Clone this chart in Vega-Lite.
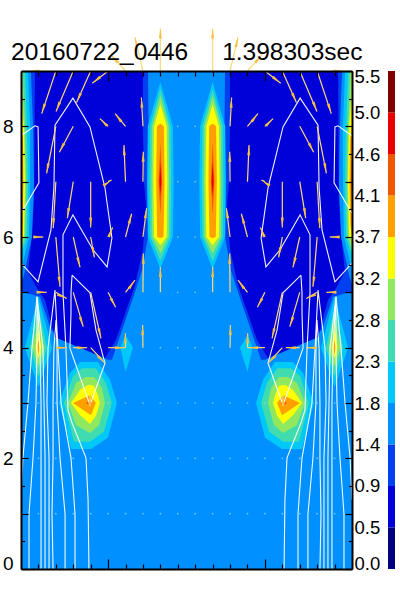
{"$schema":"https://vega.github.io/schema/vega-lite/v6.json","width":375,"height":498,"autosize":"none","padding":{"left":21,"top":71,"right":4,"bottom":31},"background":"white","view":{"stroke":null},
"title":{"text":"20160722_0446\u00a0\u00a0\u00a0\u00a0\u00a01.398303sec","anchor":"start","frame":"group","dx":-10,"offset":-57,"baseline":"alphabetic","font":"Liberation Sans","fontSize":24.5,"fontWeight":"normal","color":"black"},
"datasets":{
"polys":[
{"p":"r","b":"b3","o":0,"x":-9.5,"y":0},{"p":"r","b":"b3","o":1,"x":9.5,"y":0},{"p":"r","b":"b3","o":2,"x":9.5,"y":9},{"p":"r","b":"b3","o":3,"x":-9.5,"y":9},
{"p":"mL","b":"b2","o":0,"x":-9.5,"y":9},{"p":"mL","b":"b2","o":1,"x":-2.21,"y":9},{"p":"mL","b":"b2","o":2,"x":-2.15,"y":7},{"p":"mL","b":"b2","o":3,"x":-2.21,"y":6},{"p":"mL","b":"b2","o":4,"x":-2.55,"y":5.4},{"p":"mL","b":"b2","o":5,"x":-2.96,"y":5},{"p":"mL","b":"b2","o":6,"x":-4.28,"y":3.78},{"p":"mL","b":"b2","o":7,"x":-4.51,"y":3.78},{"p":"mL","b":"b2","o":8,"x":-7.78,"y":4.32},{"p":"mL","b":"b2","o":9,"x":-8.41,"y":4.92},{"p":"mL","b":"b2","o":10,"x":-9.5,"y":5.01},
{"p":"mR","b":"b2","o":0,"x":9.5,"y":9},{"p":"mR","b":"b2","o":1,"x":2.21,"y":9},{"p":"mR","b":"b2","o":2,"x":2.15,"y":7},{"p":"mR","b":"b2","o":3,"x":2.21,"y":6},{"p":"mR","b":"b2","o":4,"x":2.55,"y":5.4},{"p":"mR","b":"b2","o":5,"x":2.96,"y":5},{"p":"mR","b":"b2","o":6,"x":4.28,"y":3.78},{"p":"mR","b":"b2","o":7,"x":4.51,"y":3.78},{"p":"mR","b":"b2","o":8,"x":7.78,"y":4.32},{"p":"mR","b":"b2","o":9,"x":8.41,"y":4.92},{"p":"mR","b":"b2","o":10,"x":9.5,"y":5.01},
{"p":"dL","b":"b1","o":0,"x":-8.7,"y":9},{"p":"dL","b":"b1","o":1,"x":-2.5,"y":9},{"p":"dL","b":"b1","o":2,"x":-2.5,"y":7.99},{"p":"dL","b":"b1","o":3,"x":-2.44,"y":6.99},{"p":"dL","b":"b1","o":4,"x":-2.32,"y":6.58},{"p":"dL","b":"b1","o":5,"x":-2.5,"y":5.77},{"p":"dL","b":"b1","o":6,"x":-2.96,"y":5.13},{"p":"dL","b":"b1","o":7,"x":-4.05,"y":4.14},{"p":"dL","b":"b1","o":8,"x":-4.68,"y":3.81},{"p":"dL","b":"b1","o":9,"x":-7.55,"y":4.19},{"p":"dL","b":"b1","o":10,"x":-8.12,"y":4.86},{"p":"dL","b":"b1","o":11,"x":-8.52,"y":5.04},{"p":"dL","b":"b1","o":12,"x":-9.1,"y":5.37},{"p":"dL","b":"b1","o":13,"x":-8.93,"y":5.86},{"p":"dL","b":"b1","o":14,"x":-8.75,"y":6.67},
{"p":"dR","b":"b1","o":0,"x":8.7,"y":9},{"p":"dR","b":"b1","o":1,"x":2.5,"y":9},{"p":"dR","b":"b1","o":2,"x":2.5,"y":7.99},{"p":"dR","b":"b1","o":3,"x":2.44,"y":6.99},{"p":"dR","b":"b1","o":4,"x":2.32,"y":6.58},{"p":"dR","b":"b1","o":5,"x":2.5,"y":5.77},{"p":"dR","b":"b1","o":6,"x":2.96,"y":5.13},{"p":"dR","b":"b1","o":7,"x":4.05,"y":4.14},{"p":"dR","b":"b1","o":8,"x":4.68,"y":3.81},{"p":"dR","b":"b1","o":9,"x":7.55,"y":4.19},{"p":"dR","b":"b1","o":10,"x":8.12,"y":4.86},{"p":"dR","b":"b1","o":11,"x":8.52,"y":5.04},{"p":"dR","b":"b1","o":12,"x":9.1,"y":5.37},{"p":"dR","b":"b1","o":13,"x":8.93,"y":5.86},{"p":"dR","b":"b1","o":14,"x":8.75,"y":6.67},
{"p":"s3L","b":"b3","o":0,"x":-9.5,"y":9},{"p":"s3L","b":"b3","o":1,"x":-8.93,"y":9},{"p":"s3L","b":"b3","o":2,"x":-8.81,"y":7.99},{"p":"s3L","b":"b3","o":3,"x":-8.75,"y":6.99},{"p":"s3L","b":"b3","o":4,"x":-8.87,"y":6},{"p":"s3L","b":"b3","o":5,"x":-9.33,"y":5.31},{"p":"s3L","b":"b3","o":6,"x":-9.5,"y":5.15},
{"p":"s3R","b":"b3","o":0,"x":9.5,"y":9},{"p":"s3R","b":"b3","o":1,"x":8.93,"y":9},{"p":"s3R","b":"b3","o":2,"x":8.81,"y":7.99},{"p":"s3R","b":"b3","o":3,"x":8.75,"y":6.99},{"p":"s3R","b":"b3","o":4,"x":8.87,"y":6},{"p":"s3R","b":"b3","o":5,"x":9.33,"y":5.31},{"p":"s3R","b":"b3","o":6,"x":9.5,"y":5.15},
{"p":"s4L","b":"b4","o":0,"x":-9.5,"y":9},{"p":"s4L","b":"b4","o":1,"x":-9.1,"y":9},{"p":"s4L","b":"b4","o":2,"x":-8.98,"y":7.99},{"p":"s4L","b":"b4","o":3,"x":-8.98,"y":6.99},{"p":"s4L","b":"b4","o":4,"x":-9.04,"y":6},{"p":"s4L","b":"b4","o":5,"x":-9.5,"y":5.4},
{"p":"s4R","b":"b4","o":0,"x":9.5,"y":9},{"p":"s4R","b":"b4","o":1,"x":9.1,"y":9},{"p":"s4R","b":"b4","o":2,"x":8.98,"y":7.99},{"p":"s4R","b":"b4","o":3,"x":8.98,"y":6.99},{"p":"s4R","b":"b4","o":4,"x":9.04,"y":6},{"p":"s4R","b":"b4","o":5,"x":9.5,"y":5.4},
{"p":"s5L","b":"b5","o":0,"x":-9.5,"y":9},{"p":"s5L","b":"b5","o":1,"x":-9.27,"y":9},{"p":"s5L","b":"b5","o":2,"x":-9.16,"y":7.99},{"p":"s5L","b":"b5","o":3,"x":-9.1,"y":6.99},{"p":"s5L","b":"b5","o":4,"x":-9.16,"y":6},{"p":"s5L","b":"b5","o":5,"x":-9.5,"y":5.67},
{"p":"s5R","b":"b5","o":0,"x":9.5,"y":9},{"p":"s5R","b":"b5","o":1,"x":9.27,"y":9},{"p":"s5R","b":"b5","o":2,"x":9.16,"y":7.99},{"p":"s5R","b":"b5","o":3,"x":9.1,"y":6.99},{"p":"s5R","b":"b5","o":4,"x":9.16,"y":6},{"p":"s5R","b":"b5","o":5,"x":9.5,"y":5.67},
{"p":"s6L","b":"b6","o":0,"x":-9.5,"y":9},{"p":"s6L","b":"b6","o":1,"x":-9.41,"y":9},{"p":"s6L","b":"b6","o":2,"x":-9.27,"y":7.99},{"p":"s6L","b":"b6","o":3,"x":-9.21,"y":6.99},{"p":"s6L","b":"b6","o":4,"x":-9.27,"y":6},{"p":"s6L","b":"b6","o":5,"x":-9.5,"y":5.77},
{"p":"s6R","b":"b6","o":0,"x":9.5,"y":9},{"p":"s6R","b":"b6","o":1,"x":9.41,"y":9},{"p":"s6R","b":"b6","o":2,"x":9.27,"y":7.99},{"p":"s6R","b":"b6","o":3,"x":9.21,"y":6.99},{"p":"s6R","b":"b6","o":4,"x":9.27,"y":6},{"p":"s6R","b":"b6","o":5,"x":9.5,"y":5.77},
{"p":"s7L","b":"b7","o":0,"x":-9.5,"y":8.62},{"p":"s7L","b":"b7","o":1,"x":-9.33,"y":7.99},{"p":"s7L","b":"b7","o":2,"x":-9.27,"y":6.99},{"p":"s7L","b":"b7","o":3,"x":-9.33,"y":6},{"p":"s7L","b":"b7","o":4,"x":-9.5,"y":5.95},
{"p":"s7R","b":"b7","o":0,"x":9.5,"y":8.62},{"p":"s7R","b":"b7","o":1,"x":9.33,"y":7.99},{"p":"s7R","b":"b7","o":2,"x":9.27,"y":6.99},{"p":"s7R","b":"b7","o":3,"x":9.33,"y":6},{"p":"s7R","b":"b7","o":4,"x":9.5,"y":5.95},
{"p":"s8L","b":"b8","o":0,"x":-9.5,"y":8.02},{"p":"s8L","b":"b8","o":1,"x":-9.39,"y":7.75},{"p":"s8L","b":"b8","o":2,"x":-9.36,"y":6.99},{"p":"s8L","b":"b8","o":3,"x":-9.41,"y":6.22},{"p":"s8L","b":"b8","o":4,"x":-9.5,"y":6.04},
{"p":"s8R","b":"b8","o":0,"x":9.5,"y":8.02},{"p":"s8R","b":"b8","o":1,"x":9.39,"y":7.75},{"p":"s8R","b":"b8","o":2,"x":9.36,"y":6.99},{"p":"s8R","b":"b8","o":3,"x":9.41,"y":6.22},{"p":"s8R","b":"b8","o":4,"x":9.5,"y":6.04},
{"p":"s9L","b":"b9","o":0,"x":-9.5,"y":7.48},{"p":"s9L","b":"b9","o":1,"x":-9.43,"y":6.99},{"p":"s9L","b":"b9","o":2,"x":-9.5,"y":6.49},
{"p":"s9R","b":"b9","o":0,"x":9.5,"y":7.48},{"p":"s9R","b":"b9","o":1,"x":9.43,"y":6.99},{"p":"s9R","b":"b9","o":2,"x":9.5,"y":6.49},
{"p":"l4L","b":"b4","o":0,"x":-8.5,"y":4.92},{"p":"l4L","b":"b4","o":1,"x":-9.28,"y":4},{"p":"l4L","b":"b4","o":2,"x":-8.5,"y":3.29},{"p":"l4L","b":"b4","o":3,"x":-7.72,"y":4},
{"p":"l5L","b":"b5","o":0,"x":-8.5,"y":4.74},{"p":"l5L","b":"b5","o":1,"x":-8.99,"y":4},{"p":"l5L","b":"b5","o":2,"x":-8.5,"y":3.47},{"p":"l5L","b":"b5","o":3,"x":-8.01,"y":4},
{"p":"l6L","b":"b6","o":0,"x":-8.5,"y":4.54},{"p":"l6L","b":"b6","o":1,"x":-8.84,"y":4},{"p":"l6L","b":"b6","o":2,"x":-8.5,"y":3.65},{"p":"l6L","b":"b6","o":3,"x":-8.16,"y":4},
{"p":"l7L","b":"b7","o":0,"x":-8.5,"y":4.32},{"p":"l7L","b":"b7","o":1,"x":-8.67,"y":4},{"p":"l7L","b":"b7","o":2,"x":-8.5,"y":3.81},{"p":"l7L","b":"b7","o":3,"x":-8.33,"y":4},
{"p":"l8L","b":"b8","o":0,"x":-8.5,"y":4.14},{"p":"l8L","b":"b8","o":1,"x":-8.57,"y":4},{"p":"l8L","b":"b8","o":2,"x":-8.5,"y":3.87},{"p":"l8L","b":"b8","o":3,"x":-8.43,"y":4},
{"p":"l4R","b":"b4","o":0,"x":8.5,"y":4.92},{"p":"l4R","b":"b4","o":1,"x":9.28,"y":4},{"p":"l4R","b":"b4","o":2,"x":8.5,"y":3.29},{"p":"l4R","b":"b4","o":3,"x":7.72,"y":4},
{"p":"l5R","b":"b5","o":0,"x":8.5,"y":4.74},{"p":"l5R","b":"b5","o":1,"x":8.99,"y":4},{"p":"l5R","b":"b5","o":2,"x":8.5,"y":3.47},{"p":"l5R","b":"b5","o":3,"x":8.01,"y":4},
{"p":"l6R","b":"b6","o":0,"x":8.5,"y":4.54},{"p":"l6R","b":"b6","o":1,"x":8.84,"y":4},{"p":"l6R","b":"b6","o":2,"x":8.5,"y":3.65},{"p":"l6R","b":"b6","o":3,"x":8.16,"y":4},
{"p":"l7R","b":"b7","o":0,"x":8.5,"y":4.32},{"p":"l7R","b":"b7","o":1,"x":8.67,"y":4},{"p":"l7R","b":"b7","o":2,"x":8.5,"y":3.81},{"p":"l7R","b":"b7","o":3,"x":8.33,"y":4},
{"p":"l8R","b":"b8","o":0,"x":8.5,"y":4.14},{"p":"l8R","b":"b8","o":1,"x":8.57,"y":4},{"p":"l8R","b":"b8","o":2,"x":8.5,"y":3.87},{"p":"l8R","b":"b8","o":3,"x":8.43,"y":4},
{"p":"kL","b":"b4","o":0,"x":-3.5,"y":4.23},{"p":"kL","b":"b4","o":1,"x":-3.07,"y":4},{"p":"kL","b":"b4","o":2,"x":-3.5,"y":3.56},{"p":"kL","b":"b4","o":3,"x":-3.79,"y":4},
{"p":"kR","b":"b4","o":0,"x":3.5,"y":4.23},{"p":"kR","b":"b4","o":1,"x":3.07,"y":4},{"p":"kR","b":"b4","o":2,"x":3.5,"y":3.56},{"p":"kR","b":"b4","o":3,"x":3.79,"y":4},
{"p":"u4L","b":"b4","o":0,"x":-7.32,"y":3},{"p":"u4L","b":"b4","o":1,"x":-6.69,"y":3.54},{"p":"u4L","b":"b4","o":2,"x":-6.11,"y":3.74},{"p":"u4L","b":"b4","o":3,"x":-5.08,"y":3.74},{"p":"u4L","b":"b4","o":4,"x":-4.39,"y":3.42},{"p":"u4L","b":"b4","o":5,"x":-3.99,"y":3},{"p":"u4L","b":"b4","o":6,"x":-4.51,"y":2.37},{"p":"u4L","b":"b4","o":7,"x":-5.48,"y":2.17},{"p":"u4L","b":"b4","o":8,"x":-6.63,"y":2.17},
{"p":"u5L","b":"b5","o":0,"x":-7.03,"y":3},{"p":"u5L","b":"b5","o":1,"x":-6.52,"y":3.49},{"p":"u5L","b":"b5","o":2,"x":-6,"y":3.63},{"p":"u5L","b":"b5","o":3,"x":-5.2,"y":3.63},{"p":"u5L","b":"b5","o":4,"x":-4.62,"y":3.36},{"p":"u5L","b":"b5","o":5,"x":-4.28,"y":3},{"p":"u5L","b":"b5","o":6,"x":-4.74,"y":2.48},{"p":"u5L","b":"b5","o":7,"x":-5.54,"y":2.3},{"p":"u5L","b":"b5","o":8,"x":-6.46,"y":2.3},
{"p":"u6L","b":"b6","o":0,"x":-6.8,"y":3},{"p":"u6L","b":"b6","o":1,"x":-6.34,"y":3.36},{"p":"u6L","b":"b6","o":2,"x":-5.83,"y":3.47},{"p":"u6L","b":"b6","o":3,"x":-5.31,"y":3.47},{"p":"u6L","b":"b6","o":4,"x":-4.85,"y":3.27},{"p":"u6L","b":"b6","o":5,"x":-4.68,"y":3},{"p":"u6L","b":"b6","o":6,"x":-5.02,"y":2.6},{"p":"u6L","b":"b6","o":7,"x":-5.54,"y":2.46},{"p":"u6L","b":"b6","o":8,"x":-6.34,"y":2.6},
{"p":"u7L","b":"b7","o":0,"x":-6.63,"y":3},{"p":"u7L","b":"b7","o":1,"x":-6.11,"y":3.24},{"p":"u7L","b":"b7","o":2,"x":-5.65,"y":3.33},{"p":"u7L","b":"b7","o":3,"x":-5.31,"y":3.31},{"p":"u7L","b":"b7","o":4,"x":-5.08,"y":3.14},{"p":"u7L","b":"b7","o":5,"x":-4.97,"y":3},{"p":"u7L","b":"b7","o":6,"x":-5.2,"y":2.77},{"p":"u7L","b":"b7","o":7,"x":-5.54,"y":2.62},{"p":"u7L","b":"b7","o":8,"x":-6.11,"y":2.78},
{"p":"u8L","b":"b8","o":0,"x":-6.52,"y":3},{"p":"u8L","b":"b8","o":1,"x":-5.54,"y":3.14},{"p":"u8L","b":"b8","o":2,"x":-5.2,"y":3},{"p":"u8L","b":"b8","o":3,"x":-5.48,"y":2.78},
{"p":"u9L","b":"b9","o":0,"x":-5.77,"y":3},{"p":"u9L","b":"b9","o":1,"x":-5.54,"y":3.05},{"p":"u9L","b":"b9","o":2,"x":-5.42,"y":3},{"p":"u9L","b":"b9","o":3,"x":-5.54,"y":2.95},
{"p":"u4R","b":"b4","o":0,"x":7.32,"y":3},{"p":"u4R","b":"b4","o":1,"x":6.69,"y":3.54},{"p":"u4R","b":"b4","o":2,"x":6.11,"y":3.74},{"p":"u4R","b":"b4","o":3,"x":5.08,"y":3.74},{"p":"u4R","b":"b4","o":4,"x":4.39,"y":3.42},{"p":"u4R","b":"b4","o":5,"x":3.99,"y":3},{"p":"u4R","b":"b4","o":6,"x":4.51,"y":2.37},{"p":"u4R","b":"b4","o":7,"x":5.48,"y":2.17},{"p":"u4R","b":"b4","o":8,"x":6.63,"y":2.17},
{"p":"u5R","b":"b5","o":0,"x":7.03,"y":3},{"p":"u5R","b":"b5","o":1,"x":6.52,"y":3.49},{"p":"u5R","b":"b5","o":2,"x":6,"y":3.63},{"p":"u5R","b":"b5","o":3,"x":5.2,"y":3.63},{"p":"u5R","b":"b5","o":4,"x":4.62,"y":3.36},{"p":"u5R","b":"b5","o":5,"x":4.28,"y":3},{"p":"u5R","b":"b5","o":6,"x":4.74,"y":2.48},{"p":"u5R","b":"b5","o":7,"x":5.54,"y":2.3},{"p":"u5R","b":"b5","o":8,"x":6.46,"y":2.3},
{"p":"u6R","b":"b6","o":0,"x":6.8,"y":3},{"p":"u6R","b":"b6","o":1,"x":6.34,"y":3.36},{"p":"u6R","b":"b6","o":2,"x":5.83,"y":3.47},{"p":"u6R","b":"b6","o":3,"x":5.31,"y":3.47},{"p":"u6R","b":"b6","o":4,"x":4.85,"y":3.27},{"p":"u6R","b":"b6","o":5,"x":4.68,"y":3},{"p":"u6R","b":"b6","o":6,"x":5.02,"y":2.6},{"p":"u6R","b":"b6","o":7,"x":5.54,"y":2.46},{"p":"u6R","b":"b6","o":8,"x":6.34,"y":2.6},
{"p":"u7R","b":"b7","o":0,"x":6.63,"y":3},{"p":"u7R","b":"b7","o":1,"x":6.11,"y":3.24},{"p":"u7R","b":"b7","o":2,"x":5.65,"y":3.33},{"p":"u7R","b":"b7","o":3,"x":5.31,"y":3.31},{"p":"u7R","b":"b7","o":4,"x":5.08,"y":3.14},{"p":"u7R","b":"b7","o":5,"x":4.97,"y":3},{"p":"u7R","b":"b7","o":6,"x":5.2,"y":2.77},{"p":"u7R","b":"b7","o":7,"x":5.54,"y":2.62},{"p":"u7R","b":"b7","o":8,"x":6.11,"y":2.78},
{"p":"u8R","b":"b8","o":0,"x":6.52,"y":3},{"p":"u8R","b":"b8","o":1,"x":5.54,"y":3.14},{"p":"u8R","b":"b8","o":2,"x":5.2,"y":3},{"p":"u8R","b":"b8","o":3,"x":5.48,"y":2.78},
{"p":"u9R","b":"b9","o":0,"x":5.77,"y":3},{"p":"u9R","b":"b9","o":1,"x":5.54,"y":3.05},{"p":"u9R","b":"b9","o":2,"x":5.42,"y":3},{"p":"u9R","b":"b9","o":3,"x":5.54,"y":2.95},
{"p":"h4L","b":"b4","o":0,"x":-1.5,"y":8.8},{"p":"h4L","b":"b4","o":1,"x":-2.22,"y":8},{"p":"h4L","b":"b4","o":2,"x":-2.26,"y":7},{"p":"h4L","b":"b4","o":3,"x":-2.22,"y":6},{"p":"h4L","b":"b4","o":4,"x":-1.5,"y":5.42},{"p":"h4L","b":"b4","o":5,"x":-0.78,"y":6},{"p":"h4L","b":"b4","o":6,"x":-0.74,"y":7},{"p":"h4L","b":"b4","o":7,"x":-0.78,"y":8},
{"p":"h5L","b":"b5","o":0,"x":-1.5,"y":8.68},{"p":"h5L","b":"b5","o":1,"x":-2.08,"y":8},{"p":"h5L","b":"b5","o":2,"x":-2.12,"y":7},{"p":"h5L","b":"b5","o":3,"x":-2.08,"y":6},{"p":"h5L","b":"b5","o":4,"x":-1.5,"y":5.56},{"p":"h5L","b":"b5","o":5,"x":-0.92,"y":6},{"p":"h5L","b":"b5","o":6,"x":-0.88,"y":7},{"p":"h5L","b":"b5","o":7,"x":-0.92,"y":8},
{"p":"h6L","b":"b6","o":0,"x":-1.5,"y":8.55},{"p":"h6L","b":"b6","o":1,"x":-1.97,"y":8},{"p":"h6L","b":"b6","o":2,"x":-2,"y":7},{"p":"h6L","b":"b6","o":3,"x":-1.97,"y":6},{"p":"h6L","b":"b6","o":4,"x":-1.5,"y":5.7},{"p":"h6L","b":"b6","o":5,"x":-1.03,"y":6},{"p":"h6L","b":"b6","o":6,"x":-1,"y":7},{"p":"h6L","b":"b6","o":7,"x":-1.03,"y":8},
{"p":"h7L","b":"b7","o":0,"x":-1.5,"y":8.4},{"p":"h7L","b":"b7","o":1,"x":-1.86,"y":8},{"p":"h7L","b":"b7","o":2,"x":-1.9,"y":7},{"p":"h7L","b":"b7","o":3,"x":-1.86,"y":6},{"p":"h7L","b":"b7","o":4,"x":-1.5,"y":5.85},{"p":"h7L","b":"b7","o":5,"x":-1.14,"y":6},{"p":"h7L","b":"b7","o":6,"x":-1.1,"y":7},{"p":"h7L","b":"b7","o":7,"x":-1.14,"y":8},
{"p":"h8L","b":"b8","o":0,"x":-1.5,"y":8.05},{"p":"h8L","b":"b8","o":1,"x":-1.7,"y":8},{"p":"h8L","b":"b8","o":2,"x":-1.74,"y":7},{"p":"h8L","b":"b8","o":3,"x":-1.68,"y":6},{"p":"h8L","b":"b8","o":4,"x":-1.5,"y":5.98},{"p":"h8L","b":"b8","o":5,"x":-1.32,"y":6},{"p":"h8L","b":"b8","o":6,"x":-1.26,"y":7},{"p":"h8L","b":"b8","o":7,"x":-1.3,"y":8},
{"p":"h9L","b":"b9","o":0,"x":-1.5,"y":7.7},{"p":"h9L","b":"b9","o":1,"x":-1.6,"y":7},{"p":"h9L","b":"b9","o":2,"x":-1.5,"y":6.4},{"p":"h9L","b":"b9","o":3,"x":-1.4,"y":7},
{"p":"h10L","b":"b10","o":0,"x":-1.5,"y":7.35},{"p":"h10L","b":"b10","o":1,"x":-1.56,"y":7},{"p":"h10L","b":"b10","o":2,"x":-1.5,"y":6.75},{"p":"h10L","b":"b10","o":3,"x":-1.44,"y":7},
{"p":"h4R","b":"b4","o":0,"x":1.5,"y":8.8},{"p":"h4R","b":"b4","o":1,"x":2.22,"y":8},{"p":"h4R","b":"b4","o":2,"x":2.26,"y":7},{"p":"h4R","b":"b4","o":3,"x":2.22,"y":6},{"p":"h4R","b":"b4","o":4,"x":1.5,"y":5.42},{"p":"h4R","b":"b4","o":5,"x":0.78,"y":6},{"p":"h4R","b":"b4","o":6,"x":0.74,"y":7},{"p":"h4R","b":"b4","o":7,"x":0.78,"y":8},
{"p":"h5R","b":"b5","o":0,"x":1.5,"y":8.68},{"p":"h5R","b":"b5","o":1,"x":2.08,"y":8},{"p":"h5R","b":"b5","o":2,"x":2.12,"y":7},{"p":"h5R","b":"b5","o":3,"x":2.08,"y":6},{"p":"h5R","b":"b5","o":4,"x":1.5,"y":5.56},{"p":"h5R","b":"b5","o":5,"x":0.92,"y":6},{"p":"h5R","b":"b5","o":6,"x":0.88,"y":7},{"p":"h5R","b":"b5","o":7,"x":0.92,"y":8},
{"p":"h6R","b":"b6","o":0,"x":1.5,"y":8.55},{"p":"h6R","b":"b6","o":1,"x":1.97,"y":8},{"p":"h6R","b":"b6","o":2,"x":2,"y":7},{"p":"h6R","b":"b6","o":3,"x":1.97,"y":6},{"p":"h6R","b":"b6","o":4,"x":1.5,"y":5.7},{"p":"h6R","b":"b6","o":5,"x":1.03,"y":6},{"p":"h6R","b":"b6","o":6,"x":1,"y":7},{"p":"h6R","b":"b6","o":7,"x":1.03,"y":8},
{"p":"h7R","b":"b7","o":0,"x":1.5,"y":8.4},{"p":"h7R","b":"b7","o":1,"x":1.86,"y":8},{"p":"h7R","b":"b7","o":2,"x":1.9,"y":7},{"p":"h7R","b":"b7","o":3,"x":1.86,"y":6},{"p":"h7R","b":"b7","o":4,"x":1.5,"y":5.85},{"p":"h7R","b":"b7","o":5,"x":1.14,"y":6},{"p":"h7R","b":"b7","o":6,"x":1.1,"y":7},{"p":"h7R","b":"b7","o":7,"x":1.14,"y":8},
{"p":"h8R","b":"b8","o":0,"x":1.5,"y":8.05},{"p":"h8R","b":"b8","o":1,"x":1.7,"y":8},{"p":"h8R","b":"b8","o":2,"x":1.74,"y":7},{"p":"h8R","b":"b8","o":3,"x":1.68,"y":6},{"p":"h8R","b":"b8","o":4,"x":1.5,"y":5.98},{"p":"h8R","b":"b8","o":5,"x":1.32,"y":6},{"p":"h8R","b":"b8","o":6,"x":1.26,"y":7},{"p":"h8R","b":"b8","o":7,"x":1.3,"y":8},
{"p":"h9R","b":"b9","o":0,"x":1.5,"y":7.7},{"p":"h9R","b":"b9","o":1,"x":1.6,"y":7},{"p":"h9R","b":"b9","o":2,"x":1.5,"y":6.4},{"p":"h9R","b":"b9","o":3,"x":1.4,"y":7},
{"p":"h10R","b":"b10","o":0,"x":1.5,"y":7.35},{"p":"h10R","b":"b10","o":1,"x":1.56,"y":7},{"p":"h10R","b":"b10","o":2,"x":1.5,"y":6.75},{"p":"h10R","b":"b10","o":3,"x":1.44,"y":7}
],
"stream":[
{"s":"1L","o":0,"x":-9.5,"y":1.25},{"s":"1L","o":1,"x":-9.39,"y":2.01},{"s":"1L","o":2,"x":-9.1,"y":3},{"s":"1L","o":3,"x":-8.87,"y":3.99},{"s":"1L","o":4,"x":-8.58,"y":4.92},{"s":"1L","o":5,"x":-8.24,"y":3.99},{"s":"1L","o":6,"x":-8.18,"y":3},{"s":"1L","o":7,"x":-8.12,"y":2.01},{"s":"1L","o":8,"x":-8.12,"y":0.99},{"s":"1L","o":9,"x":-8.12,"y":0},
{"s":"2L","o":0,"x":-9.04,"y":0},{"s":"2L","o":1,"x":-9.04,"y":0.99},{"s":"2L","o":2,"x":-8.81,"y":2.01},{"s":"2L","o":3,"x":-8.64,"y":3},{"s":"2L","o":4,"x":-8.58,"y":3.99},{"s":"2L","o":5,"x":-8.58,"y":4.92},{"s":"2L","o":6,"x":-8.41,"y":3.99},{"s":"2L","o":7,"x":-8.35,"y":3},{"s":"2L","o":8,"x":-8.35,"y":2.01},{"s":"2L","o":9,"x":-8.35,"y":0.99},{"s":"2L","o":10,"x":-8.35,"y":0},
{"s":"3L","o":0,"x":-7.89,"y":0},{"s":"3L","o":1,"x":-7.89,"y":0.99},{"s":"3L","o":2,"x":-7.89,"y":2.01},{"s":"3L","o":3,"x":-8.01,"y":3},{"s":"3L","o":4,"x":-7.95,"y":3.99},{"s":"3L","o":5,"x":-7.55,"y":5.04},{"s":"3L","o":6,"x":-7.38,"y":3.99},{"s":"3L","o":7,"x":-7.2,"y":3},{"s":"3L","o":8,"x":-6.63,"y":2.01},{"s":"3L","o":9,"x":-6.4,"y":0.99},{"s":"3L","o":10,"x":-6.4,"y":0},
{"s":"8L","o":0,"x":-7.66,"y":0},{"s":"8L","o":1,"x":-7.72,"y":0.99},{"s":"8L","o":2,"x":-7.66,"y":2.01},{"s":"8L","o":3,"x":-7.66,"y":3},{"s":"8L","o":4,"x":-7.61,"y":3.99},{"s":"8L","o":5,"x":-7.49,"y":4.5},{"s":"8L","o":6,"x":-7.43,"y":3.99},{"s":"8L","o":7,"x":-7.43,"y":3},{"s":"8L","o":8,"x":-7.26,"y":2.01},{"s":"8L","o":9,"x":-6.97,"y":0.99},{"s":"8L","o":10,"x":-6.97,"y":0},
{"s":"5L","o":0,"x":-9.5,"y":5.53},{"s":"5L","o":1,"x":-8.52,"y":5.19},{"s":"5L","o":2,"x":-7.78,"y":6.13},{"s":"5L","o":3,"x":-7.61,"y":6.9},{"s":"5L","o":4,"x":-7.55,"y":8.02},{"s":"5L","o":5,"x":-6.52,"y":8.51},{"s":"5L","o":6,"x":-5.54,"y":7.99},{"s":"5L","o":7,"x":-4.68,"y":6.89},{"s":"5L","o":8,"x":-4.28,"y":5.98},{"s":"5L","o":9,"x":-4.56,"y":5.46},{"s":"5L","o":10,"x":-5.37,"y":5.77},{"s":"5L","o":11,"x":-6.52,"y":6.4},{"s":"5L","o":12,"x":-7.09,"y":6.04},{"s":"5L","o":13,"x":-7.09,"y":4.99},{"s":"5L","o":14,"x":-6.92,"y":3.99},{"s":"5L","o":15,"x":-6.8,"y":2.87},{"s":"5L","o":16,"x":-6.57,"y":2.64},{"s":"5L","o":17,"x":-5.77,"y":2.01},{"s":"5L","o":18,"x":-5.65,"y":1.25},{"s":"5L","o":19,"x":-5.6,"y":0},
{"s":"6L","o":0,"x":-9.5,"y":7.83},{"s":"6L","o":1,"x":-8.7,"y":8.01},{"s":"6L","o":2,"x":-8.52,"y":7.99},{"s":"6L","o":3,"x":-8.47,"y":6.98},{"s":"6L","o":4,"x":-9.5,"y":6.43},
{"s":"7L","o":0,"x":-6.57,"y":5.31},{"s":"7L","o":1,"x":-6.63,"y":4.99},{"s":"7L","o":2,"x":-6.63,"y":4.63},{"s":"7L","o":3,"x":-6.69,"y":3.99},{"s":"7L","o":4,"x":-5.54,"y":2.96},{"s":"7L","o":5,"x":-4.68,"y":3.72},{"s":"7L","o":6,"x":-5.2,"y":4.32},{"s":"7L","o":7,"x":-5.54,"y":4.99},{"s":"7L","o":8,"x":-6.57,"y":5.31},
{"s":"1R","o":0,"x":9.5,"y":1.25},{"s":"1R","o":1,"x":9.39,"y":2.01},{"s":"1R","o":2,"x":9.1,"y":3},{"s":"1R","o":3,"x":8.87,"y":3.99},{"s":"1R","o":4,"x":8.58,"y":4.92},{"s":"1R","o":5,"x":8.24,"y":3.99},{"s":"1R","o":6,"x":8.18,"y":3},{"s":"1R","o":7,"x":8.12,"y":2.01},{"s":"1R","o":8,"x":8.12,"y":0.99},{"s":"1R","o":9,"x":8.12,"y":0},
{"s":"2R","o":0,"x":9.04,"y":0},{"s":"2R","o":1,"x":9.04,"y":0.99},{"s":"2R","o":2,"x":8.81,"y":2.01},{"s":"2R","o":3,"x":8.64,"y":3},{"s":"2R","o":4,"x":8.58,"y":3.99},{"s":"2R","o":5,"x":8.58,"y":4.92},{"s":"2R","o":6,"x":8.41,"y":3.99},{"s":"2R","o":7,"x":8.35,"y":3},{"s":"2R","o":8,"x":8.35,"y":2.01},{"s":"2R","o":9,"x":8.35,"y":0.99},{"s":"2R","o":10,"x":8.35,"y":0},
{"s":"3R","o":0,"x":7.89,"y":0},{"s":"3R","o":1,"x":7.89,"y":0.99},{"s":"3R","o":2,"x":7.89,"y":2.01},{"s":"3R","o":3,"x":8.01,"y":3},{"s":"3R","o":4,"x":7.95,"y":3.99},{"s":"3R","o":5,"x":7.55,"y":5.04},{"s":"3R","o":6,"x":7.38,"y":3.99},{"s":"3R","o":7,"x":7.2,"y":3},{"s":"3R","o":8,"x":6.63,"y":2.01},{"s":"3R","o":9,"x":6.4,"y":0.99},{"s":"3R","o":10,"x":6.4,"y":0},
{"s":"8R","o":0,"x":7.66,"y":0},{"s":"8R","o":1,"x":7.72,"y":0.99},{"s":"8R","o":2,"x":7.66,"y":2.01},{"s":"8R","o":3,"x":7.66,"y":3},{"s":"8R","o":4,"x":7.61,"y":3.99},{"s":"8R","o":5,"x":7.49,"y":4.5},{"s":"8R","o":6,"x":7.43,"y":3.99},{"s":"8R","o":7,"x":7.43,"y":3},{"s":"8R","o":8,"x":7.26,"y":2.01},{"s":"8R","o":9,"x":6.97,"y":0.99},{"s":"8R","o":10,"x":6.97,"y":0},
{"s":"5R","o":0,"x":9.5,"y":5.53},{"s":"5R","o":1,"x":8.52,"y":5.19},{"s":"5R","o":2,"x":7.78,"y":6.13},{"s":"5R","o":3,"x":7.61,"y":6.9},{"s":"5R","o":4,"x":7.55,"y":8.02},{"s":"5R","o":5,"x":6.52,"y":8.51},{"s":"5R","o":6,"x":5.54,"y":7.99},{"s":"5R","o":7,"x":4.68,"y":6.89},{"s":"5R","o":8,"x":4.28,"y":5.98},{"s":"5R","o":9,"x":4.56,"y":5.46},{"s":"5R","o":10,"x":5.37,"y":5.77},{"s":"5R","o":11,"x":6.52,"y":6.4},{"s":"5R","o":12,"x":7.09,"y":6.04},{"s":"5R","o":13,"x":7.09,"y":4.99},{"s":"5R","o":14,"x":6.92,"y":3.99},{"s":"5R","o":15,"x":6.8,"y":2.87},{"s":"5R","o":16,"x":6.57,"y":2.64},{"s":"5R","o":17,"x":5.77,"y":2.01},{"s":"5R","o":18,"x":5.65,"y":1.25},{"s":"5R","o":19,"x":5.6,"y":0},
{"s":"6R","o":0,"x":9.5,"y":7.83},{"s":"6R","o":1,"x":8.7,"y":8.01},{"s":"6R","o":2,"x":8.52,"y":7.99},{"s":"6R","o":3,"x":8.47,"y":6.98},{"s":"6R","o":4,"x":9.5,"y":6.43},
{"s":"7R","o":0,"x":6.57,"y":5.31},{"s":"7R","o":1,"x":6.63,"y":4.99},{"s":"7R","o":2,"x":6.63,"y":4.63},{"s":"7R","o":3,"x":6.69,"y":3.99},{"s":"7R","o":4,"x":5.54,"y":2.96},{"s":"7R","o":5,"x":4.68,"y":3.72},{"s":"7R","o":6,"x":5.2,"y":4.32},{"s":"7R","o":7,"x":5.54,"y":4.99},{"s":"7R","o":8,"x":6.57,"y":5.31}
],
"arrows":[
{"x":-8.5,"y":9,"x2":-9.02,"y2":9,"a":270},{"x":-7.5,"y":9,"x2":-8.31,"y2":8.23,"a":197.5},{"x":-6.5,"y":9,"x2":-7.49,"y2":8.27,"a":202},{"x":-5.5,"y":9,"x2":-6.31,"y2":8.43,"a":204},{"x":-4.5,"y":9,"x2":-5.41,"y2":8.78,"a":232},{"x":-3.5,"y":9,"x2":-4.33,"y2":9.29,"a":318},{"x":-2.5,"y":9,"x2":-2.96,"y2":9.61,"a":347},{"x":-1.5,"y":9,"x2":-1.5,"y2":9.77,"a":0},
{"x":-7.5,"y":8,"x2":-8.03,"y2":7.15,"a":190},{"x":-6.5,"y":8,"x2":-7.3,"y2":7.53,"a":207.5},{"x":-4.5,"y":8,"x2":-4.97,"y2":8.14,"a":315},{"x":-3.5,"y":8,"x2":-4.1,"y2":8.23,"a":322},{"x":-2.5,"y":8,"x2":-2.59,"y2":8.52,"a":357},
{"x":-7.5,"y":7,"x2":-7.65,"y2":6.16,"a":182},{"x":-6.5,"y":7,"x2":-6.84,"y2":6.34,"a":188},{"x":-5.5,"y":7,"x2":-5.5,"y2":6.17,"a":180},{"x":-4.5,"y":7,"x2":-4.3,"y2":7.03,"a":55},{"x":-3.5,"y":7,"x2":-3.59,"y2":7.66,"a":358},{"x":-2.5,"y":7,"x2":-2.48,"y2":7.54,"a":1},
{"x":-8.5,"y":6,"x2":-8.22,"y2":6,"a":90},{"x":-7.5,"y":6,"x2":-7.26,"y2":5.1,"a":174},{"x":-6.5,"y":6,"x2":-6.11,"y2":5.45,"a":166},{"x":-5.5,"y":6,"x2":-5.29,"y2":5.63,"a":170},{"x":-4.5,"y":6,"x2":-4.24,"y2":6.17,"a":23},{"x":-3.5,"y":6,"x2":-3.15,"y2":6.42,"a":15},{"x":-2.5,"y":6,"x2":-2.29,"y2":6.52,"a":8},
{"x":-8.5,"y":5,"x2":-8.03,"y2":5,"a":90},{"x":-7.5,"y":5,"x2":-6.88,"y2":4.89,"a":113},{"x":-6.5,"y":5,"x2":-5.93,"y2":4.38,"a":162},{"x":-5.5,"y":5,"x2":-4.91,"y2":4.17,"a":167},{"x":-4.5,"y":5,"x2":-4.07,"y2":4.73,"a":152},{"x":-3.5,"y":5,"x2":-2.96,"y2":5.22,"a":36},{"x":-2.5,"y":5,"x2":-2.48,"y2":5.7,"a":0},{"x":-1.5,"y":5,"x2":-1.5,"y2":5.46,"a":0},
{"x":-7.5,"y":4,"x2":-6.88,"y2":4,"a":90},{"x":-6.5,"y":4,"x2":-5.7,"y2":4,"a":90},{"x":-5.5,"y":4,"x2":-4.68,"y2":3.72,"a":135},{"x":-4.5,"y":4,"x2":-3.53,"y2":4,"a":90},{"x":-3.5,"y":4,"x2":-3.51,"y2":4.26,"a":0},{"x":-2.5,"y":4,"x2":-2.52,"y2":4.41,"a":0},{"x":-5.5,"y":3,"x2":-5.55,"y2":3.14,"a":0},
{"x":8.5,"y":9,"x2":9.02,"y2":9,"a":90},{"x":7.5,"y":9,"x2":8.31,"y2":8.23,"a":162.5},{"x":6.5,"y":9,"x2":7.49,"y2":8.27,"a":158},{"x":5.5,"y":9,"x2":6.31,"y2":8.43,"a":156},{"x":4.5,"y":9,"x2":5.41,"y2":8.78,"a":128},{"x":3.5,"y":9,"x2":4.33,"y2":9.29,"a":42},{"x":2.5,"y":9,"x2":2.96,"y2":9.61,"a":13},{"x":1.5,"y":9,"x2":1.5,"y2":9.77,"a":0},
{"x":7.5,"y":8,"x2":8.03,"y2":7.15,"a":170},{"x":6.5,"y":8,"x2":7.3,"y2":7.53,"a":152.5},{"x":4.5,"y":8,"x2":4.97,"y2":8.14,"a":45},{"x":3.5,"y":8,"x2":4.1,"y2":8.23,"a":38},{"x":2.5,"y":8,"x2":2.59,"y2":8.52,"a":3},
{"x":7.5,"y":7,"x2":7.65,"y2":6.16,"a":178},{"x":6.5,"y":7,"x2":6.84,"y2":6.34,"a":172},{"x":5.5,"y":7,"x2":5.5,"y2":6.17,"a":180},{"x":4.5,"y":7,"x2":4.3,"y2":7.03,"a":305},{"x":3.5,"y":7,"x2":3.59,"y2":7.66,"a":2},{"x":2.5,"y":7,"x2":2.48,"y2":7.54,"a":359},
{"x":8.5,"y":6,"x2":8.22,"y2":6,"a":270},{"x":7.5,"y":6,"x2":7.26,"y2":5.1,"a":186},{"x":6.5,"y":6,"x2":6.11,"y2":5.45,"a":194},{"x":5.5,"y":6,"x2":5.29,"y2":5.63,"a":190},{"x":4.5,"y":6,"x2":4.24,"y2":6.17,"a":337},{"x":3.5,"y":6,"x2":3.15,"y2":6.42,"a":345},{"x":2.5,"y":6,"x2":2.29,"y2":6.52,"a":352},
{"x":8.5,"y":5,"x2":8.03,"y2":5,"a":270},{"x":7.5,"y":5,"x2":6.88,"y2":4.89,"a":247},{"x":6.5,"y":5,"x2":5.93,"y2":4.38,"a":198},{"x":5.5,"y":5,"x2":4.91,"y2":4.17,"a":193},{"x":4.5,"y":5,"x2":4.07,"y2":4.73,"a":208},{"x":3.5,"y":5,"x2":2.96,"y2":5.22,"a":324},{"x":2.5,"y":5,"x2":2.48,"y2":5.7,"a":0},{"x":1.5,"y":5,"x2":1.5,"y2":5.46,"a":0},
{"x":7.5,"y":4,"x2":6.88,"y2":4,"a":270},{"x":6.5,"y":4,"x2":5.7,"y2":4,"a":270},{"x":5.5,"y":4,"x2":4.68,"y2":3.72,"a":225},{"x":4.5,"y":4,"x2":3.53,"y2":4,"a":270},{"x":3.5,"y":4,"x2":3.51,"y2":4.26,"a":0},{"x":2.5,"y":4,"x2":2.52,"y2":4.41,"a":0},{"x":5.5,"y":3,"x2":5.55,"y2":3.14,"a":0}
],
"dots":[
{"x":-8.5,"y":1},{"x":-7.5,"y":1},{"x":-6.5,"y":1},{"x":-5.5,"y":1},{"x":-4.5,"y":1},{"x":-3.5,"y":1},{"x":-2.5,"y":1},{"x":-1.5,"y":1},{"x":-0.5,"y":1},{"x":0.5,"y":1},{"x":1.5,"y":1},{"x":2.5,"y":1},{"x":3.5,"y":1},{"x":4.5,"y":1},{"x":5.5,"y":1},{"x":6.5,"y":1},{"x":7.5,"y":1},{"x":8.5,"y":1},
{"x":-8.5,"y":2},{"x":-7.5,"y":2},{"x":-6.5,"y":2},{"x":-5.5,"y":2},{"x":-4.5,"y":2},{"x":-3.5,"y":2},{"x":-2.5,"y":2},{"x":-1.5,"y":2},{"x":-0.5,"y":2},{"x":0.5,"y":2},{"x":1.5,"y":2},{"x":2.5,"y":2},{"x":3.5,"y":2},{"x":4.5,"y":2},{"x":5.5,"y":2},{"x":6.5,"y":2},{"x":7.5,"y":2},{"x":8.5,"y":2},
{"x":-8.5,"y":3},{"x":-7.5,"y":3},{"x":-4.5,"y":3},{"x":-3.5,"y":3},{"x":-2.5,"y":3},{"x":-1.5,"y":3},{"x":-0.5,"y":3},{"x":0.5,"y":3},{"x":1.5,"y":3},{"x":2.5,"y":3},{"x":3.5,"y":3},{"x":4.5,"y":3},{"x":7.5,"y":3},{"x":8.5,"y":3},
{"x":-1.5,"y":4},{"x":-0.5,"y":4},{"x":0.5,"y":4},{"x":1.5,"y":4},{"x":-0.5,"y":5},{"x":0.5,"y":5},{"x":-0.5,"y":6},{"x":0.5,"y":6},{"x":-0.5,"y":7},{"x":0.5,"y":7},{"x":-0.5,"y":8},{"x":0.5,"y":8}
],
"bar":[{"lo":0,"hi":0.4583,"b":"b0"},{"lo":0.4583,"hi":0.9167,"b":"b1"},{"lo":0.9167,"hi":1.375,"b":"b2"},{"lo":1.375,"hi":1.8333,"b":"b3"},{"lo":1.8333,"hi":2.2917,"b":"b4"},{"lo":2.2917,"hi":2.75,"b":"b5"},{"lo":2.75,"hi":3.2083,"b":"b6"},{"lo":3.2083,"hi":3.6667,"b":"b7"},{"lo":3.6667,"hi":4.125,"b":"b8"},{"lo":4.125,"hi":4.5833,"b":"b9"},{"lo":4.5833,"hi":5.0417,"b":"b10"},{"lo":5.0417,"hi":5.5,"b":"b11"}],
"none":[{"x":0,"y":0}]
},
"layer":[
{"resolve":{"axis":{"x":"independent","y":"independent"}},
"encoding":{"x":{"field":"x","type":"quantitative","scale":{"domain":[-9.5,9.5],"range":[0,331],"nice":false,"zero":false},"axis":null},"y":{"field":"y","type":"quantitative","scale":{"domain":[0,9],"nice":false,"zero":false},"axis":null}},
"layer":[
{"data":{"name":"polys"},"mark":{"type":"line","interpolate":"linear-closed","filled":true,"strokeWidth":0},
"encoding":{"detail":{"field":"p"},"order":{"field":"o"},"fill":{"field":"b","type":"nominal","legend":null,"scale":{"domain":["b0","b1","b2","b3","b4","b5","b6","b7","b8","b9","b10","b11"],"range":["#000080","#0000d8","#0040f0","#0090ff","#00c8f8","#40dcb0","#90e860","#ffff00","#ffa000","#f05800","#e80000","#800000"]}}}},
{"data":{"name":"dots"},"mark":{"type":"point","filled":true,"size":3,"color":"#a8dcff"}},
{"data":{"name":"stream"},"mark":{"type":"line","color":"#ffffff","strokeWidth":1.1,"opacity":0.95},"encoding":{"detail":{"field":"s"},"order":{"field":"o"}}},
{"data":{"name":"arrows"},"mark":{"type":"rule","color":"#ffd878","strokeWidth":1.2},"encoding":{"x2":{"field":"x2"},"y2":{"field":"y2"}}},
{"data":{"name":"arrows"},"mark":{"type":"point","filled":true,"opacity":1,"size":70,"color":"#f8c040","shape":"M0,0L0.35,2.4L-0.35,2.4Z"},"encoding":{"x":{"field":"x2","type":"quantitative"},"y":{"field":"y2","type":"quantitative"},"angle":{"field":"a","type":"quantitative","scale":null}}},
{"data":{"name":"none"},"mark":{"type":"point","opacity":0},
"encoding":{"x":{"field":"x","type":"quantitative","axis":{"orient":"bottom","zindex":1,"values":[-8.5,-7.5,-6.5,-5.5,-3.5,-2.5,-1.5,-0.5,0.5,1.5,2.5,3.5,5.5,6.5,7.5,8.5],"labels":false,"title":null,"grid":false,"domainColor":"black","domainWidth":2,"tickColor":"black","tickWidth":1.2,"tickSize":-5}},
"y":{"field":"y","type":"quantitative","axis":{"orient":"left","zindex":1,"values":[0,1,2,3,4,5,6,7,8,9],"labelExpr":"datum.value%2==0?datum.value:''","title":null,"grid":false,"labelFlush":true,"labelFlushOffset":4,"labelFont":"Liberation Sans","labelFontSize":19,"labelColor":"black","labelPadding":15,"domainColor":"black","domainWidth":2,"tickColor":"black","tickWidth":1.2,"tickSize":-7}}}},
{"data":{"name":"none"},"mark":{"type":"point","opacity":0},
"encoding":{"x":{"field":"x","type":"quantitative","axis":{"orient":"top","zindex":1,"values":[-8.5,-7.5,-6.5,-5.5,-3.5,-2.5,-1.5,-0.5,0.5,1.5,2.5,3.5,5.5,6.5,7.5,8.5],"labels":false,"title":null,"grid":false,"domainColor":"black","domainWidth":2,"tickColor":"black","tickWidth":1.2,"tickSize":-5}},
"y":{"field":"y","type":"quantitative","axis":{"orient":"right","zindex":1,"offset":-44,"values":[0,1,2,3,4,5,6,7,8,9],"labels":false,"title":null,"grid":false,"domainColor":"black","domainWidth":2,"tickColor":"black","tickWidth":1.2,"tickSize":-7}}}},
{"data":{"name":"none"},"mark":{"type":"point","opacity":0},
"encoding":{"x":{"field":"x","type":"quantitative","axis":{"orient":"bottom","zindex":1,"values":[-4.5,4.5],"labels":false,"title":null,"grid":false,"domain":false,"tickColor":"black","tickWidth":1.2,"tickSize":-10}},
"y":{"field":"y","type":"quantitative","axis":{"orient":"left","zindex":1,"values":[0.5,1.5,2.5,3.5,4.5,5.5,6.5,7.5,8.5],"labels":false,"title":null,"grid":false,"domain":false,"tickColor":"black","tickWidth":1.2,"tickSize":-3.5}}}},
{"data":{"name":"none"},"mark":{"type":"point","opacity":0},
"encoding":{"x":{"field":"x","type":"quantitative","axis":{"orient":"top","zindex":1,"values":[-4.5,4.5],"labels":false,"title":null,"grid":false,"domain":false,"tickColor":"black","tickWidth":1.2,"tickSize":-10}},
"y":{"field":"y","type":"quantitative","axis":{"orient":"right","zindex":1,"offset":-44,"values":[0.5,1.5,2.5,3.5,4.5,5.5,6.5,7.5,8.5],"labels":false,"title":null,"grid":false,"domain":false,"tickColor":"black","tickWidth":1.2,"tickSize":-3.5}}}}
]},
{"data":{"name":"bar"},"mark":{"type":"rect"},
"encoding":{"x":{"datum":0,"type":"quantitative","scale":{"domain":[0,1],"range":[367,374]},"axis":null},"x2":{"datum":1},
"y":{"field":"lo","type":"quantitative","scale":{"domain":[0,5.5],"nice":false,"zero":false},"axis":{"orient":"right","offset":-44,"values":[0,0.4583,0.9167,1.375,1.8333,2.2917,2.75,3.2083,3.6667,4.125,4.5833,5.0417,5.5],"format":".1f","ticks":false,"domain":false,"grid":false,"title":null,"labelFlush":true,"labelFlushOffset":4,"labelFont":"Liberation Sans","labelFontSize":18.5,"labelColor":"black","labelPadding":2}},"y2":{"field":"hi"},
"fill":{"field":"b","type":"nominal","legend":null}}}
],
"resolve":{"scale":{"x":"independent","y":"independent"}}
}
